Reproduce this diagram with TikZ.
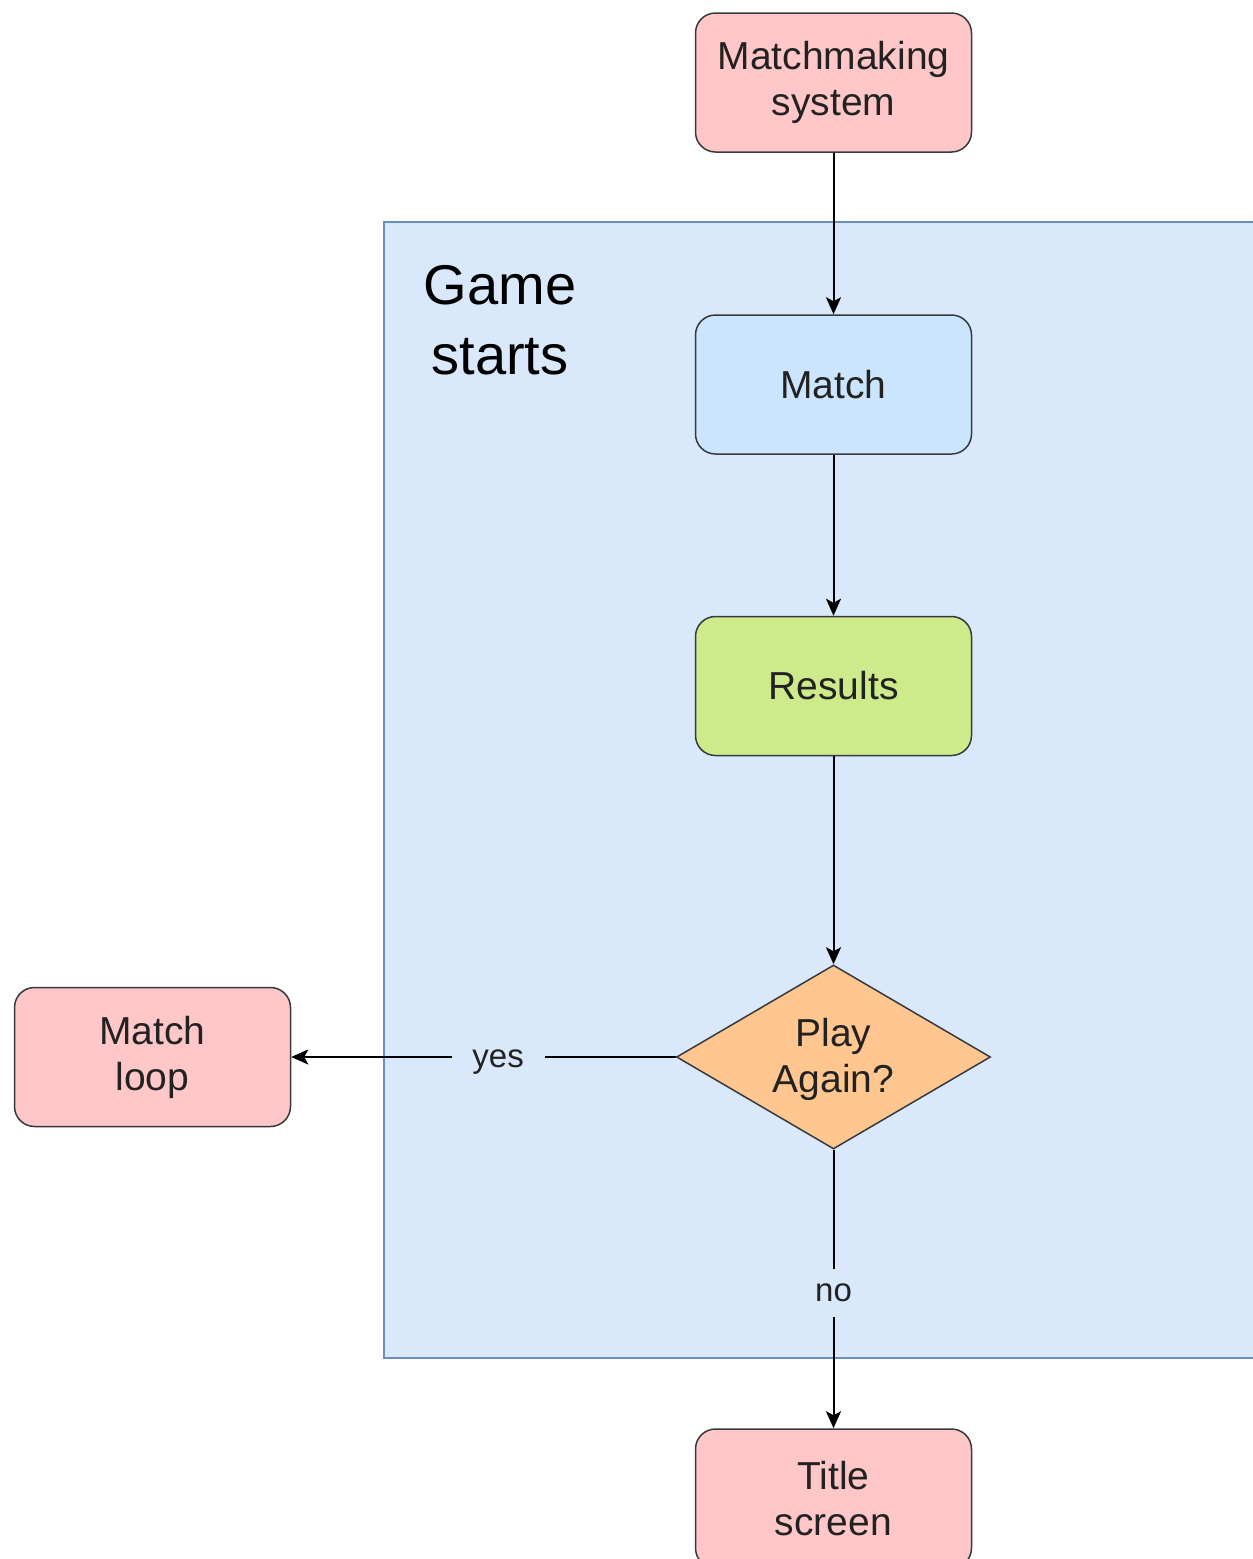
\documentclass[tikz,border=0pt]{standalone}
\usepackage{fontspec}
\setmainfont{Liberation Sans}
\usetikzlibrary{shapes.geometric,arrows.meta}
\definecolor{pinkfill}{HTML}{FFC7C7}
\definecolor{bluefill}{HTML}{CCE5FF}
\definecolor{greenfill}{HTML}{CDEB8B}
\definecolor{orangefill}{HTML}{FFC78F}
\definecolor{contfill}{HTML}{DAE8FC}
\definecolor{contdraw}{HTML}{6C8EBF}
\definecolor{boxdraw}{HTML}{36393D}
\definecolor{txt}{HTML}{222222}
\tikzset{
  box/.style={draw=boxdraw, line width=1.5pt, rounded corners=20pt,
    minimum width=276pt, minimum height=139pt, inner sep=0pt, align=center,
    text=txt, font=\fontsize{39}{46}\selectfont},
  arr/.style={line width=2pt, -{Stealth[length=17pt,width=15pt,inset=4pt]}},
  elabel/.style={fill=contfill, inner sep=0pt, minimum width=93pt, minimum height=48pt,
    text=txt, font=\fontsize{33}{40}\selectfont}
}
\begin{document}
\begin{tikzpicture}[x=1pt,y=-1pt]
\clip (0,0) rectangle (1253,1559);
\useasboundingbox (0,0) rectangle (1253,1559);
\fill[white] (0,0) rectangle (1253,1559);
% container
\draw[fill=contfill, draw=contdraw, line width=1.5pt] (384,222) rectangle (1270,1358);
\node[align=center, text=black, font=\fontsize{56}{70}\selectfont] (gs) at (500,320) {Game\\starts};
% nodes
\node[box, fill=pinkfill] (mm) at (833.5,82.5) {Matchmaking\\system};
\node[box, fill=bluefill] (match) at (833.5,384.5) {Match};
\node[box, fill=greenfill] (res) at (833.5,686) {Results};
\node[diamond, draw=boxdraw, line width=1.5pt, fill=orangefill, inner sep=0pt,
  minimum width=314pt, minimum height=184pt,
  label={[align=center, text=txt, font=\fontsize{39}{46}\selectfont, yshift=-2pt]center:Play\\Again?}] (play) at (833.5,1057) {};
\node[box, fill=pinkfill] (loop) at (152.5,1057) {Match\\loop};
\node[box, fill=pinkfill] (title) at (833.5,1498.5) {Title\\screen};
% edges
\draw[arr] (mm) -- (match);
\draw[arr] (match) -- (res);
\draw[arr] (res) -- (play);
\draw[arr] (play.west) -- node[elabel, pos=0.462, yshift=-5pt] {yes} (loop.east);
\draw[arr] (play.south) -- node[elabel, pos=0.504, yshift=-3pt] {no} (title.north);
\end{tikzpicture}
\end{document}
